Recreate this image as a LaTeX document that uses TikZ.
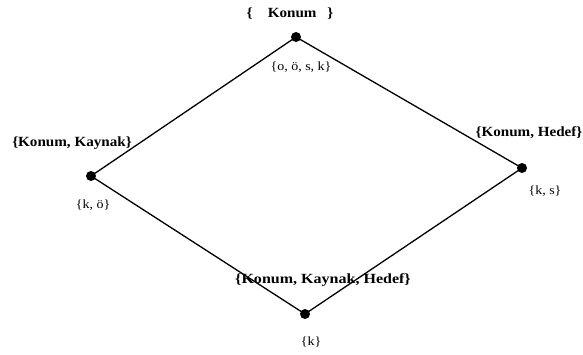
\documentclass[tikz,border=0pt]{standalone}
\usepackage{fontspec}
\setmainfont{Liberation Serif}
\begin{document}
\begin{tikzpicture}[x=1pt,y=-1pt,
  dot/.style={circle,fill=black,inner sep=0pt,minimum size=10pt},
  setlbl/.style={inner sep=0pt,font=\fontsize{12.5}{14}\selectfont,xscale=1.12,transform shape},
  attlbl/.style={inner sep=0pt,font=\bfseries\fontsize{14}{16}\selectfont,xscale=1.08,transform shape},
  edge/.style={line width=1.3pt,black}]
\useasboundingbox (0,0) rectangle (583,354);
\node[dot] (T) at (296,37) {};
\node[dot] (L) at (91,176) {};
\node[dot] (R) at (522,168) {};
\node[dot] (B) at (305,314) {};
\draw[edge] (T.center) -- (L.center) -- (B.center) -- (R.center) -- (T.center);
\node[attlbl] (tA) at (290,14) {\{\hspace{14pt}Konum\hspace{10pt}\}};
\node[setlbl] (tS) at (301,67) {\{o, ö, s, k\}};
\node[attlbl] (lA) at (72,143) {\{Konum, Kaynak\}};
\node[setlbl] (lS) at (93,205) {\{k, ö\}};
\node[attlbl] (rA) at (529,133) {\{Konum, Hedef\}};
\node[setlbl] (rS) at (545,191) {\{k, s\}};
\node[attlbl,xscale=1.06] (bA) at (323,280) {\{Konum, Kaynak, Hedef\}};
\node[setlbl] (bS) at (311,342) {\{k\}};
\end{tikzpicture}
\end{document}
